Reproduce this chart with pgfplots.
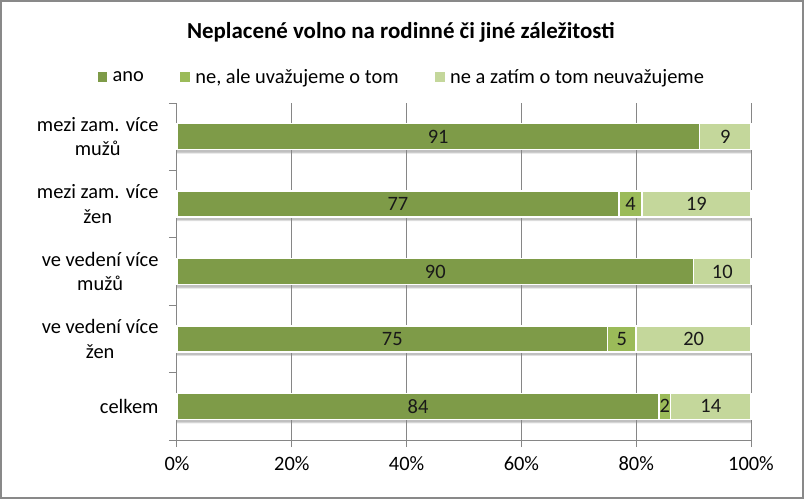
\documentclass[border=0pt]{standalone}
\usepackage{pgfplots}
\pgfplotsset{compat=1.18}
\usepackage{pgfplotstable}
\usepackage{fontspec}
\setmainfont{Carlito}
\definecolor{cdark}{HTML}{7E9B48}
\definecolor{cmid}{HTML}{9BBB59}
\definecolor{clight}{HTML}{C4D79B}
\definecolor{cgrid}{HTML}{868686}
\definecolor{cframe}{HTML}{898989}

\pgfplotstableread{
y ano ne nez tot
0 84 2 14 100
1 75 5 20 100
2 90 0 10 100
3 77 4 19 100
4 91 0 9 100
}\datatab

\pgfplotstableread{
x y lab
42 0 84
85 0 2
93 0 14
37.5 1 75
77.5 1 5
90 1 20
45 2 90
95 2 10
38.5 3 77
79 3 4
90.5 3 19
45.5 4 91
95.5 4 9
}\labtab

\begin{document}
\begin{tikzpicture}[font=\fontsize{20.5}{24.5}\selectfont]
\useasboundingbox (-177bp,-59bp) rectangle (627bp,440bp);
\draw[cframe, line width=2.5bp] (-175.75bp,-57.75bp) rectangle (625.75bp,438.75bp);
% shadows under the bars
\begin{axis}[
  at={(0,0)}, anchor=south west,
  scale only axis, width=574bp, height=337bp,
  xmin=0, xmax=100, ymin=-0.5, ymax=4.5,
  hide axis,
]
\addplot[xbar, bar width=24bp, bar shift=-5bp, fill=black, draw=none, opacity=0.12] table[x=tot, y=y] {\datatab};
\addplot[xbar, bar width=26bp, bar shift=-3bp, fill=black, draw=none, opacity=0.14] table[x=tot, y=y] {\datatab};
\end{axis}
\begin{axis}[
  at={(0,0)}, anchor=south west,
  scale only axis, width=574bp, height=337bp,
  xbar stacked, bar width=26bp,
  xmin=0, xmax=100, ymin=-0.5, ymax=4.5,
  axis x line*=bottom, axis y line*=left,
  axis line style={cgrid, line width=1bp},
  xtick={0,20,40,60,80,100},
  xticklabels={0\%,20\%,40\%,60\%,80\%,100\%},
  xmajorgrids=true,
  major grid style={cgrid, line width=1bp},
  ytick={0,1,2,3,4},
  yticklabels={celkem, {ve vedení více\\žen}, {ve vedení více\\mužů}, {mezi zam. více\\žen}, {mezi zam. více\\mužů}},
  yticklabel style={align=center, text=black, xshift=-8bp},
  xticklabel style={text=black, yshift=-6bp},
  minor ytick={-0.5,0.5,1.5,2.5,3.5,4.5},
  major y tick style={draw=none},
  tick align=outside,
  major tick length=7bp, minor tick length=8bp,
  tick style={cgrid, line width=1bp},
  every axis plot/.append style={draw=white, line width=1.5bp},
  legend columns=3,
  legend style={draw=none, fill=none, at={(0.392,1.077)}, anchor=center,
     /tikz/every odd column/.append style={column sep=3bp},
     /tikz/every even column/.append style={column sep=34bp},
     nodes={inner sep=2.5bp}},
  clip=false,
]
\addplot[fill=cdark, legend image code/.code={\fill[cdark] (0bp,-4bp) rectangle (8bp,4bp);}] table[x=ano, y=y] {\datatab};
\addlegendentry{ano}
\addplot[fill=cmid, legend image code/.code={\fill[cmid] (0bp,-4bp) rectangle (8bp,4bp);}] table[x=ne, y=y] {\datatab};
\addlegendentry{ne, ale uvažujeme o tom}
\addplot[fill=clight, legend image code/.code={\fill[clight] (0bp,-4bp) rectangle (8bp,4bp);}] table[x=nez, y=y] {\datatab};
\addlegendentry{ne a zatím o tom neuvažujeme}
\node[font=\fontsize{23}{27}\selectfont\bfseries] at (rel axis cs:0.390,1.211) {Neplacené volno na rodinné či jiné záležitosti};
\end{axis}
\begin{axis}[
  at={(0,0)}, anchor=south west,
  scale only axis, width=574bp, height=337bp,
  xmin=0, xmax=100, ymin=-0.5, ymax=4.5,
  hide axis, clip=false,
]
\addplot[draw=none, mark=none, nodes near coords, point meta=explicit symbolic,
  nodes near coords align=center,
  every node near coord/.append style={text=black!90, font=\fontsize{20.5}{24.5}\selectfont}]
  table[x=x, y=y, meta=lab] {\labtab};
\end{axis}
\end{tikzpicture}
\end{document}
